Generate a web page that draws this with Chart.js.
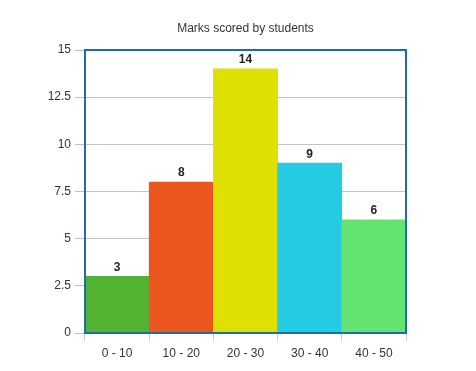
<!DOCTYPE html>
<html>
<head>
<meta charset="utf-8">
<script src="https://cdn.jsdelivr.net/npm/chart.js@4/dist/chart.umd.min.js"></script>
<style>
html,body{margin:0;padding:0;background:#fff;}
#wrap{width:476px;height:371px;}
</style>
</head>
<body>
<div id="wrap"><canvas id="c" width="476" height="371"></canvas></div>
<script>
const categories = ["0 - 10", "10 - 20", "20 - 30", "30 - 40", "40 - 50"];
const students = [3, 8, 14, 9, 6];
const barColors = ["#52b232", "#eb561e", "#dde000", "#25cbe3", "#63e470"];
const yTicks = [0, 2.5, 5, 7.5, 10, 12.5, 15];
const chartTitle = 'Marks scored by students';

const FONT = '"Liberation Sans", Arial, sans-serif';

const frameAndLabels = {
  id: 'frameAndLabels',
  afterDatasetsDraw(chart) {
    const ctx = chart.ctx;
    const a = chart.chartArea;
    ctx.save();
    // value labels
    const meta = chart.getDatasetMeta(0);
    ctx.font = 'bold 12px ' + FONT;
    ctx.fillStyle = '#222';
    ctx.textAlign = 'center';
    ctx.textBaseline = 'middle';
    meta.data.forEach((el, i) => {
      ctx.fillText(String(chart.data.datasets[0].data[i]), el.x, el.y - 9);
    });
    // frame
    ctx.strokeStyle = '#1f6aab';
    ctx.lineWidth = 2;
    ctx.strokeRect(a.left, a.top, a.right - a.left, a.bottom - a.top);
    // title centered over plot area
    ctx.font = '12px ' + FONT;
    ctx.fillStyle = '#333';
    ctx.fillText(chartTitle, (a.left + a.right) / 2, 29);
    ctx.restore();
  }
};

new Chart(document.getElementById('c'), {
  type: 'bar',
  data: {
    labels: categories,
    datasets: [{
      data: students,
      backgroundColor: barColors,
      borderWidth: 0,
      barPercentage: 1,
      categoryPercentage: 1
    }]
  },
  options: {
    responsive: false,
    animation: false,
    devicePixelRatio: 1,
    layout: { padding: { left: 0, right: 70, top: 50, bottom: 0 } },
    plugins: {
      legend: { display: false },
      tooltip: { enabled: false },
      title: { display: false }
    },
    scales: {
      y: {
        min: 0,
        max: 15,
        afterBuildTicks(scale) { scale.ticks = yTicks.map(v => ({ value: v })); },
        afterFit(scale) { scale.width = 85; },
        ticks: {
          color: '#333',
          padding: 4,
          font: { family: FONT, size: 12 }
        },
        grid: {
          color: '#c4c4c4',
          tickColor: '#aec3d6',
          tickLength: 10,
          lineWidth: 1
        },
        border: { display: false }
      },
      x: {
        afterFit(scale) { scale.height = 38; },
        ticks: {
          color: '#333',
          padding: 5,
          font: { family: FONT, size: 12 }
        },
        grid: {
          offset: true,
          drawOnChartArea: false,
          tickColor: '#cccccc',
          tickLength: 8
        },
        border: { display: false }
      }
    }
  },
  plugins: [frameAndLabels]
});
</script>
</body>
</html>
